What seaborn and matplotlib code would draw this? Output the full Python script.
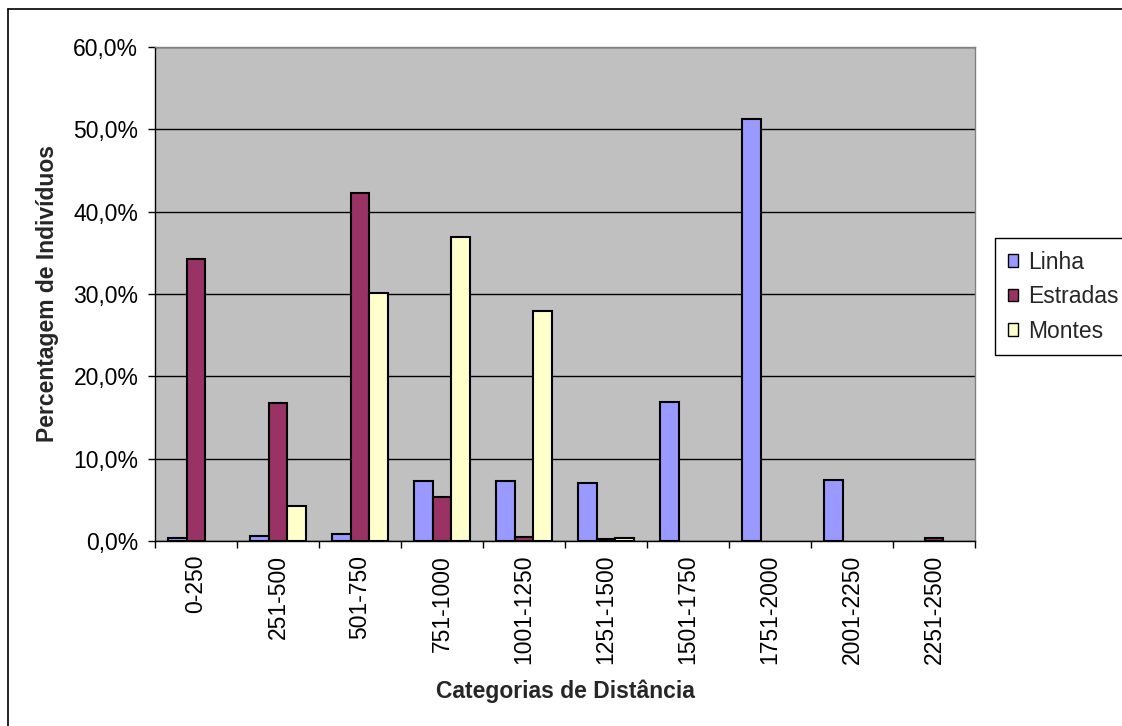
import matplotlib
matplotlib.use("Agg")
import matplotlib.pyplot as plt
from matplotlib.lines import Line2D
from matplotlib.ticker import FuncFormatter, FixedLocator, MultipleLocator
import seaborn as sns
import pandas as pd
import numpy as np

# Distance classes and percentage of individuals per landscape feature
categories = ["0-250", "251-500", "501-750", "751-1000", "1001-1250",
              "1251-1500", "1501-1750", "1751-2000", "2001-2250", "2251-2500"]
linha = [0.4, 0.6, 0.8, 7.3, 7.3, 7.1, 16.9, 51.3, 7.4, 0.0]
estradas = [34.3, 16.8, 42.3, 5.3, 0.5, 0.2, 0.0, 0.0, 0.0, 0.4]
montes = [0.0, 4.3, 30.1, 36.9, 27.9, 0.4, 0.0, 0.0, 0.0, 0.0]
series_names = ["Linha", "Estradas", "Montes"]
series_colors = ["#9999FF", "#993366", "#FFFFCC"]

df = pd.DataFrame({
    "categoria": categories * 3,
    "serie": np.repeat(series_names, len(categories)),
    "valor": linha + estradas + montes,
})

sns.set_theme(style="white")
plt.rcParams["font.family"] = ["Liberation Sans", "DejaVu Sans"]

FS = 16.5
W, H = 1122, 726
fig = plt.figure(figsize=(W / 100, H / 100), dpi=100)
ax = fig.add_axes([155 / W, 1 - 541 / H, (975 - 155) / W, (541 - 47) / H])
ax.set_facecolor("#C0C0C0")

sns.barplot(data=df, x="categoria", y="valor", hue="serie",
            order=categories, hue_order=series_names,
            palette=series_colors, width=0.68, gap=0,
            edgecolor="black", linewidth=1.5, saturation=1,
            ax=ax, zorder=3)

# Empty classes leave no outline on the baseline
for p in ax.patches:
    if p.get_height() == 0:
        p.set_linewidth(0)

ax.set_ylim(0, 60)
ax.set_xlim(-0.5, len(categories) - 0.5)
ax.yaxis.set_major_locator(MultipleLocator(10))
ax.yaxis.set_major_formatter(FuncFormatter(lambda v, p: f"{v:.1f}%".replace(".", ",")))
ax.yaxis.grid(True, color="black", linewidth=1, zorder=1)
ax.set_axisbelow(True)

# Category boundaries carry the tick marks
ax.xaxis.set_minor_locator(FixedLocator(np.arange(-0.5, len(categories), 1.0)))
ax.tick_params(axis="x", which="major", length=0, pad=10, labelsize=FS,
               labelrotation=90, colors="black")
ax.tick_params(axis="x", which="minor", length=5, width=1, direction="out",
               color="black", bottom=True)
ax.tick_params(axis="y", which="major", length=5, width=1, direction="out",
               color="black", left=True, labelsize=FS, pad=7, labelcolor="black")

for side in ["left", "bottom"]:
    ax.spines[side].set_color("black")
    ax.spines[side].set_linewidth(1)
for side in ["top", "right"]:
    ax.spines[side].set_color("#808080")
    ax.spines[side].set_linewidth(1)

ax.set_xlabel("Categorias de Distância", fontsize=FS, fontweight="bold", labelpad=11)
ax.set_ylabel("Percentagem de Indivíduos", fontsize=FS, fontweight="bold", labelpad=10)

handles, labels = ax.get_legend_handles_labels()
leg = ax.legend(handles, labels, loc="upper left",
                bbox_to_anchor=(995 / W, 1 - 238 / H),
                bbox_transform=fig.transFigure,
                fontsize=FS, frameon=True, fancybox=False, framealpha=1,
                edgecolor="black", handlelength=0.45, handleheight=0.45,
                handletextpad=0.45, labelspacing=0.5, borderpad=0.55,
                borderaxespad=0)
leg.get_frame().set_linewidth(1)
for h in leg.legend_handles:
    h.set_edgecolor("black")
    h.set_linewidth(1)

# Outer chart frame (left and top edges visible)
fig.add_artist(Line2D([8 / W, 8 / W], [0, 1 - 9 / H], transform=fig.transFigure,
                      color="black", linewidth=1.2))
fig.add_artist(Line2D([8 / W, 1], [1 - 9 / H, 1 - 9 / H], transform=fig.transFigure,
                      color="black", linewidth=1.2))

fig.savefig("out.png", dpi=100, facecolor="white")
